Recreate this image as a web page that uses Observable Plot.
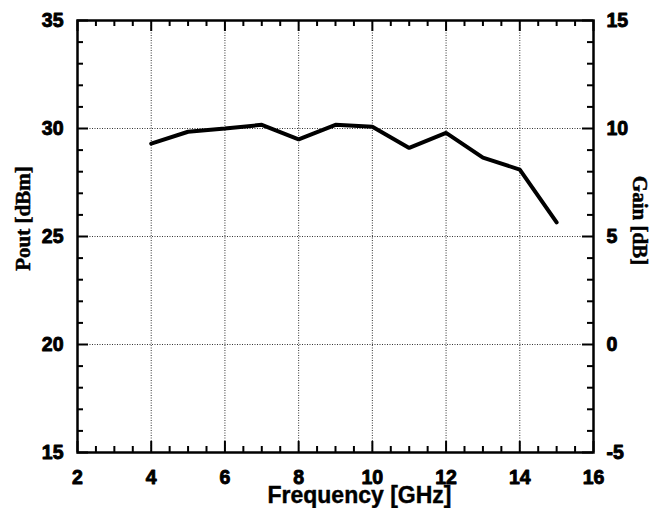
<!DOCTYPE html>
<html>
<head>
<meta charset="utf-8">
<script src="https://cdn.jsdelivr.net/npm/d3@7"></script>
<script src="https://cdn.jsdelivr.net/npm/@observablehq/plot@0.6"></script>
<style>
  html, body { margin: 0; padding: 0; background: #fff; }
  #chart svg { display: block; }
</style>
</head>
<body>
<div id="chart"></div>
<script>
// Data
const freq = [4, 5, 6, 7, 8, 9, 10, 11, 12, 13, 14, 15];
const pout = [29.3, 29.85, 30.0, 30.17, 29.5, 30.17, 30.08, 29.1, 29.8, 28.65, 28.1, 25.65];

// Tick labels
const xMajor = [2, 4, 6, 8, 10, 12, 14, 16];
const xMinor = [2.5, 3, 3.5, 4.5, 5, 5.5, 6.5, 7, 7.5, 8.5, 9, 9.5, 10.5, 11, 11.5, 12.5, 13, 13.5, 14.5, 15, 15.5];
const xGrid = [4, 6, 8, 10, 12, 14];
const yMajor = [15, 20, 25, 30, 35];
const yMinor = [16, 17, 18, 19, 21, 22, 23, 24, 26, 27, 28, 29, 31, 32, 33, 34];
const yGrid = [20, 25, 30];
const gainLabels = ["-5", "0", "5", "10", "15"];

const xLabel = "Frequency [GHz]";
const yLabelLeft = "Pout [dBm]";
const yLabelRight = "Gain [dB]";

const W = 651, H = 508;
const mL = 77, mR = 58, mT = 20, mB = 56;
const fw = W - mL - mR, fh = H - mT - mB;
const sans = "'Liberation Sans', Arial, Helvetica, sans-serif";
const serif = "'Liberation Serif', 'Times New Roman', serif";

const data = freq.map((f, i) => ({f, p: pout[i]}));
const tickStyle = {stroke: "#000", strokeWidth: 2};
const heavy = {fill: "#000", stroke: "#000", strokeWidth: 0.9};

const chart = Plot.plot({
  width: W,
  height: H,
  marginLeft: mL,
  marginRight: mR,
  marginTop: mT,
  marginBottom: mB,
  style: {background: "#fff", color: "#000", fontFamily: sans, fontSize: "19.5px", fontWeight: "bold"},
  x: {domain: [2, 16], axis: null},
  y: {domain: [15, 35], axis: null},
  marks: [
    Plot.ruleX(xGrid, {x: d => d, stroke: "#333", strokeWidth: 1, strokeDasharray: "1,1.5"}),
    Plot.ruleY(yGrid, {y: d => d, stroke: "#333", strokeWidth: 1, strokeDasharray: "1,1.5"}),
    // inward ticks: bottom
    Plot.tickX(xMajor, {x: d => d, insetTop: fh - 11, ...tickStyle}),
    Plot.tickX(xMinor, {x: d => d, insetTop: fh - 6, ...tickStyle}),
    // top
    Plot.tickX(xMajor, {x: d => d, insetBottom: fh - 11, ...tickStyle}),
    Plot.tickX(xMinor, {x: d => d, insetBottom: fh - 6, ...tickStyle}),
    // left
    Plot.tickY(yMajor, {y: d => d, insetRight: fw - 11, ...tickStyle}),
    Plot.tickY(yMinor, {y: d => d, insetRight: fw - 6, ...tickStyle}),
    // right
    Plot.tickY(yMajor, {y: d => d, insetLeft: fw - 11, ...tickStyle}),
    Plot.tickY(yMinor, {y: d => d, insetLeft: fw - 6, ...tickStyle}),
    Plot.frame({stroke: "#000", strokeWidth: 2.5}),
    Plot.line(data, {x: "f", y: "p", stroke: "#000", strokeWidth: 4, strokeLinejoin: "miter"}),
    // tick labels as text marks positioned by the scales
    Plot.text(xMajor, {x: d => d, frameAnchor: "bottom", lineAnchor: "top", dy: 18, text: d => String(d),
      fontFamily: sans, fontSize: 19.5, fontWeight: "bold", ...heavy}),
    Plot.text(yMajor, {y: d => d, frameAnchor: "left", textAnchor: "end", dx: -14, text: d => String(d),
      fontFamily: sans, fontSize: 19.5, fontWeight: "bold", ...heavy}),
    Plot.text(yMajor, {y: d => d, frameAnchor: "right", textAnchor: "start", dx: 13, text: (d, i) => gainLabels[i],
      fontFamily: sans, fontSize: 19.5, fontWeight: "bold", ...heavy}),
    Plot.text([xLabel], {text: d => d, frameAnchor: "bottom", dx: 24, dy: 34, lineAnchor: "top", textAnchor: "middle",
      fontFamily: sans, fontSize: 23, fontWeight: "bold", fill: "#000", stroke: "#000", strokeWidth: 0.4}),
    Plot.text([yLabelLeft], {text: d => d, frameAnchor: "left", dx: -54, dy: -18, rotate: -90, textAnchor: "middle", lineAnchor: "middle",
      fontFamily: serif, fontSize: 21, fontWeight: "bold", fill: "#000", stroke: "#000", strokeWidth: 0.5}),
    Plot.text([yLabelRight], {text: d => d, frameAnchor: "right", dx: 46, dy: -16, rotate: 90, textAnchor: "middle", lineAnchor: "middle",
      fontFamily: serif, fontSize: 21, fontWeight: "bold", fill: "#000", stroke: "#000", strokeWidth: 0.5})
  ]
});
document.getElementById("chart").appendChild(chart);
</script>
</body>
</html>
